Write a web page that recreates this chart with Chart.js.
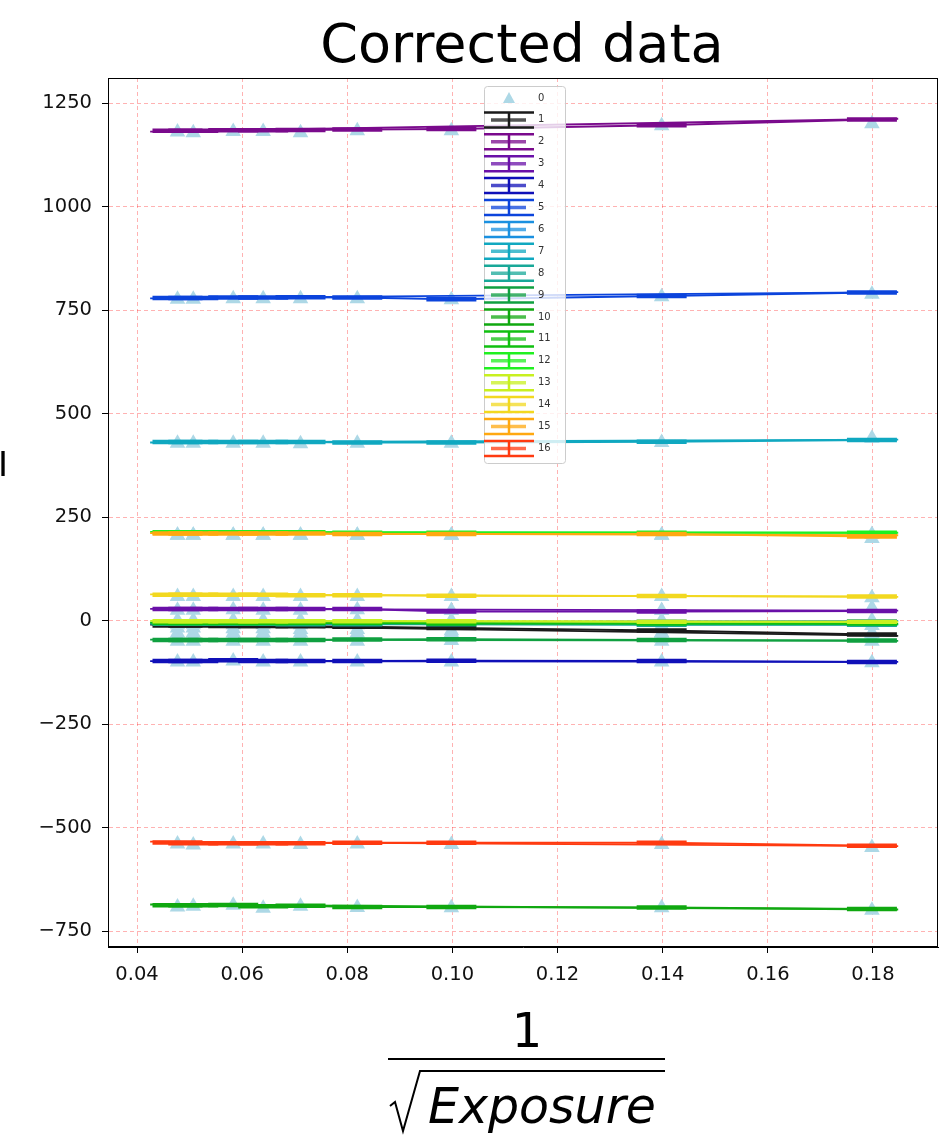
<!DOCTYPE html>
<html>
<head>
<meta charset="utf-8">
<script src="https://cdn.jsdelivr.net/npm/chart.js@4.4.0/dist/chart.umd.min.js"></script>
<style>
  body { margin: 0; background: #fff; }
  canvas { display: block; }
</style>
</head>
<body>
<canvas id="chart" width="940" height="1138"></canvas>
<script>
// x positions of the measurements (1/sqrt(exposure)) and of the fit line ends
const xVals = [0.0477, 0.0507, 0.0583, 0.0640, 0.0711, 0.0819, 0.0998, 0.1398, 0.1798];
const fitX = [0.0425, 0.1848];
const xTicks = [0.04, 0.06, 0.08, 0.10, 0.12, 0.14, 0.16, 0.18];
const yTicks = [-750, -500, -250, 0, 250, 500, 750, 1000, 1250];
const legendLabels = ['0', '1', '2', '3', '4', '5', '6', '7', '8', '9', '10', '11', '12', '13', '14', '15', '16'];

// corrected values, series 1..16
const s1 = [-12, -12, -13, -13, -14, -15, -18, -24, -34];
const s2 = [1183, 1183, 1184, 1184, 1185, 1186, 1187, 1196, 1210];
const s3 = [28, 28, 28, 28, 28, 28, 22, 22, 23];
const s4 = [-98, -98, -96, -98, -98, -98, -97, -98, -100];
const s5 = [779, 779, 780, 780, 781, 780, 776, 784, 792];
const s6 = [-4, -4, -4, -4, -4, -4, -4, -3, -2];
const s7 = [431, 431, 431, 431, 431, 430, 430, 432, 436];
const s8 = [-8, -8, -8, -8, -9, -9, -9, -10, -10];
const s9 = [-47, -47, -47, -47, -47, -46, -45, -47, -48];
const s10 = [-688, -688, -687, -690, -689, -692, -692, -693, -697];
const s11 = [-6, -6, -6, -6, -6, -6, -7, -7, -7];
const s12 = [213, 213, 213, 213, 213, 212, 212, 212, 212];
const s13 = [-2, -2, -2, -2, -2, -2, -2, -3, -3];
const s14 = [62, 62, 62, 62, 61, 61, 60, 59, 58];
const s15 = [210, 210, 210, 210, 210, 209, 209, 209, 203];
const s16 = [-536, -538, -538, -538, -538, -537, -537, -537, -544];

// fitted line values at fitX[0] and fitX[1]
const fitLeft = [-10, 1181, 28, -98, 778, -5, 430, -8, -46, -686, -5, 214, -1, 63, 211, -534];
const fitRight = [-37, 1212, 24, -100, 793, -1, 437, -10, -49, -698, -8, 212, -3, 57, 206, -545];

// series 0: raw points (light blue triangles)
const t1 = [-18, -18, -20, -20, -22, -22, -25, -30, -32];
const t2 = [1180, 1178, 1181, 1181, 1178, 1183, 1183, 1195, 1200];
const t3 = [25, 25, 26, 25, 25, 26, 24, 24, 30];
const t4 = [-100, -100, -98, -100, -100, -100, -100, -100, -102];
const t5 = [776, 776, 777, 777, 777, 777, 775, 782, 788];
const t6 = [-30, -30, -30, -30, -30, -30, -30, -30, -30];
const t7 = [428, 428, 428, 428, 427, 428, 428, 430, 440];
const t8 = [-40, -40, -40, -40, -40, -40, -40, -42, -42];
const t9 = [-50, -50, -50, -50, -50, -50, -48, -50, -50];
const t10 = [-692, -690, -688, -695, -690, -693, -694, -694, -700];
const t11 = [-10, -10, -10, -10, -10, -10, -12, -12, -12];
const t12 = [206, 206, 206, 206, 206, 206, 206, 206, 208];
const t13 = [0, 0, 0, 0, 0, 0, 0, 0, 0];
const t14 = [58, 58, 58, 58, 58, 58, 58, 58, 55];
const t15 = [206, 206, 206, 206, 206, 206, 206, 206, 198];
const t16 = [-540, -542, -540, -540, -541, -540, -541, -541, -548];

const colors = ['#1a1a1a', '#7a0a8c', '#6a10a8', '#1010b8', '#0c44dc', '#1a90e0', '#10a8c0', '#18a898',
                '#10a040', '#10a810', '#10c010', '#20f020', '#c8f020', '#f2d820', '#ffa810', '#ff3a10'];

const series = [s1, s2, s3, s4, s5, s6, s7, s8, s9, s10, s11, s12, s13, s14, s15, s16];
const raw = [t1, t2, t3, t4, t5, t6, t7, t8, t9, t10, t11, t12, t13, t14, t15, t16];

const datasets = [];
const triPoints = [];
raw.forEach(row => row.forEach((v, j) => triPoints.push({ x: xVals[j], y: v })));
datasets.push({
    label: '0',
    data: triPoints,
    showLine: false,
    pointStyle: 'triangle',
    pointRadius: 9,
    backgroundColor: '#add8e6',
    borderColor: '#add8e6',
    pointBorderWidth: 0,
    order: 1000
});

series.forEach((vals, i) => {
    datasets.push({
        label: String(i + 1),
        data: vals.map((v, j) => ({ x: xVals[j], y: v })),
        borderColor: colors[i],
        backgroundColor: colors[i],
        borderWidth: 2,
        pointStyle: 'line',
        pointRadius: 25,
        pointBorderWidth: 4.5,
        pointBorderColor: colors[i],
        order: 200 - 2 * i
    });
    datasets.push({
        label: 'fit ' + (i + 1),
        data: [{ x: fitX[0], y: fitLeft[i] }, { x: fitX[1], y: fitRight[i] }],
        borderColor: colors[i],
        borderWidth: 1.8,
        pointRadius: 0,
        order: 199 - 2 * i
    });
});

const font = "'DejaVu Sans', sans-serif";

// legend box, frame, title and axis labels
const decorations = {
    id: 'decorations',
    afterDatasetsDraw(chart) {
        const ctx = chart.ctx;
        ctx.save();
        // legend
        const bx = 484, by = 86, bw = 81, bh = 377;
        ctx.fillStyle = 'rgba(255,255,255,0.8)';
        ctx.strokeStyle = '#cccccc';
        ctx.lineWidth = 1;
        ctx.beginPath();
        ctx.roundRect(bx + 0.5, by + 0.5, bw, bh, 3);
        ctx.fill();
        ctx.stroke();

        const cx = 509;
        ctx.font = '10px ' + font;
        ctx.textBaseline = 'middle';
        ctx.textAlign = 'left';
        legendLabels.forEach((lab, i) => {
            const cy = 98 + i * 21.9;
            if (i === 0) {
                ctx.fillStyle = '#add8e6';
                ctx.beginPath();
                ctx.moveTo(cx, cy - 6);
                ctx.lineTo(cx + 6, cy + 5);
                ctx.lineTo(cx - 6, cy + 5);
                ctx.closePath();
                ctx.fill();
            } else {
                const c = colors[i - 1];
                ctx.strokeStyle = c;
                ctx.lineWidth = 2.5;
                ctx.beginPath();
                ctx.moveTo(cx - 25, cy - 7.5); ctx.lineTo(cx + 25, cy - 7.5);
                ctx.moveTo(cx - 25, cy + 7.5); ctx.lineTo(cx + 25, cy + 7.5);
                ctx.moveTo(cx, cy - 7.5); ctx.lineTo(cx, cy + 7.5);
                ctx.stroke();
                ctx.globalAlpha = 0.75;
                ctx.lineWidth = 3.5;
                ctx.beginPath();
                ctx.moveTo(cx - 18, cy); ctx.lineTo(cx + 17, cy);
                ctx.stroke();
                ctx.globalAlpha = 1;
            }
            ctx.fillStyle = '#333';
            ctx.fillText(lab, 538, cy);
        });
        ctx.restore();
    },
    afterDraw(chart) {
        const ctx = chart.ctx;
        const a = chart.chartArea;
        ctx.save();
        // frame
        ctx.strokeStyle = '#000';
        ctx.lineWidth = 1;
        ctx.strokeRect(a.left + 0.5, a.top + 0.5, a.right - a.left - 1, a.bottom - a.top - 1);

        ctx.fillStyle = '#000';
        ctx.textAlign = 'center';
        ctx.textBaseline = 'alphabetic';
        // title
        ctx.font = '54px ' + font;
        ctx.fillText('Corrected data', 522, 62);

        // y label (cut at the left edge)
        ctx.textAlign = 'left';
        ctx.font = '34px ' + font;
        ctx.fillText('I', -2, 476);

        // x label: 1 / sqrt(Exposure)
        ctx.textAlign = 'center';
        ctx.font = '48px ' + font;
        ctx.fillText('1', 527, 1047);
        ctx.lineWidth = 2;
        ctx.beginPath();
        ctx.moveTo(388, 1059); ctx.lineTo(665, 1059);
        ctx.stroke();
        ctx.beginPath();
        ctx.moveTo(390, 1106);
        ctx.lineTo(395, 1102);
        ctx.lineTo(403, 1131);
        ctx.lineTo(420, 1071);
        ctx.lineTo(665, 1071);
        ctx.stroke();
        ctx.font = 'italic 49px ' + font;
        ctx.textAlign = 'left';
        ctx.fillText('Exposure', 428, 1123);
        ctx.restore();
    }
};

const gridColor = 'rgba(255,0,0,0.3)';

new Chart(document.getElementById('chart'), {
    type: 'line',
    data: { datasets },
    options: {
        responsive: false,
        animation: false,
        layout: { autoPadding: false, padding: { top: 78, right: 2, left: 0, bottom: 0 } },
        plugins: {
            legend: { display: false },
            tooltip: { enabled: false },
            title: { display: false }
        },
        elements: { line: { tension: 0 } },
        scales: {
            x: {
                type: 'linear',
                min: 0.03448,
                max: 0.19237,
                afterBuildTicks: s => { s.ticks = xTicks.map(v => ({ value: v })); },
                afterFit: s => { s.height = 191; s.paddingLeft = 0; s.paddingRight = 0; },
                ticks: {
                    color: '#111',
                    font: { family: font, size: 19.5 },
                    padding: 10,
                    maxRotation: 0,
                    callback: v => v.toFixed(2)
                },
                grid: { color: gridColor, tickColor: '#000', tickLength: 6, tickBorderDash: [] },
                border: { display: true, color: '#000', width: 1, dash: [4, 3] }
            },
            y: {
                type: 'linear',
                min: -788.6,
                max: 1310.4,
                afterBuildTicks: s => { s.ticks = yTicks.map(v => ({ value: v })); },
                afterFit: s => { s.width = 108; s.paddingTop = 0; s.paddingBottom = 0; },
                ticks: {
                    color: '#111',
                    font: { family: font, size: 19.5 },
                    padding: 10,
                    callback: v => (v < 0 ? '\u2212' + Math.abs(v) : String(v))
                },
                grid: { color: gridColor, tickColor: '#000', tickLength: 6, tickBorderDash: [] },
                border: { display: true, color: '#000', width: 1, dash: [4, 3] }
            }
        }
    },
    plugins: [decorations]
});
</script>
</body>
</html>
